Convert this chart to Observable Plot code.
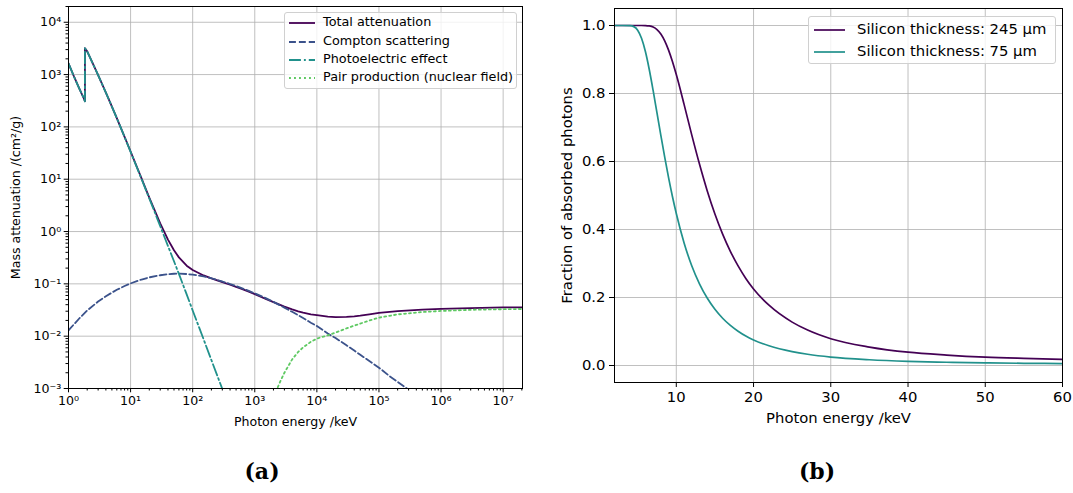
<!DOCTYPE html>
<html><head><meta charset="utf-8">
<script src="https://cdn.jsdelivr.net/npm/d3@7"></script>
<script src="https://cdn.jsdelivr.net/npm/@observablehq/plot@0.6"></script>
<style>
body{margin:0;background:#fff;font-family:"DejaVu Sans",sans-serif;}
#wrap{position:relative;width:1073px;height:493px;overflow:hidden;background:#fff;}
.panel{position:absolute;top:0;}
.legend{position:absolute;background:rgba(255,255,255,0.8);border:1px solid #d0d0d0;border-radius:3px;box-sizing:border-box;}
.legend .row{position:absolute;white-space:nowrap;line-height:1;color:#000;}
.legend svg{position:absolute;overflow:visible;}
.caption{position:absolute;font-family:"DejaVu Serif",serif;font-weight:bold;font-size:22px;transform:translateX(-50%);white-space:nowrap;}
</style></head>
<body><div id="wrap"></div>
<script>
// ---------- Panel (a): mass attenuation of silicon ----------
const totalEnergy = [1,1.25,1.5,1.75,1.839,1.839,2,2.5,3,4,5,6,8,10,15,20,30,40,50,60,80,100,150,200,300,400,500,600,800,1000,1500,2000,3000,4000,5000,6000,8000,1e4,1.5e4,2e4,3e4,4e4,5e4,7e4,1e5,2e5,5e5,1e6,3e6,1e7,2.1e7];
const totalMu = [1640,870,535,359,309,3192,2777,1564,978,453,245,147,64.7,33.9,10.34,4.46,1.436,0.701,0.4385,0.3207,0.2228,0.1835,0.1448,0.1275,0.1082,0.0961,0.0875,0.0808,0.0708,0.0636,0.0518,0.0448,0.0368,0.0325,0.0298,0.0281,0.0262,0.0252,0.0237,0.0232,0.0234,0.0239,0.0246,0.0261,0.0280,0.0302,0.0322,0.0332,0.0345,0.0354,0.0356];

const comptonEnergy = [1,1.5,2,3,4,5,6,8,10,15,20,30,40,50,60,80,100,150,200,300,400,500,600,800,1000,1500,2000,3000,4000,5000,6000,8000,1e4,1.5e4,2e4,3e4,4e4,5e4,6e4,8e4,1e5,1.5e5,2e5,3e5,4e5,1e6,1e7,2.1e7];
const comptonMu = [0.0129,0.022,0.031,0.046,0.058,0.068,0.077,0.091,0.102,0.121,0.133,0.146,0.153,0.156,0.157,0.154,0.150,0.139,0.128,0.111,0.0994,0.0905,0.0836,0.0734,0.0658,0.0533,0.0452,0.0352,0.0292,0.0252,0.0222,0.0181,0.0157,0.0112,0.0092,0.0067,0.0053,0.0044,0.0038,0.0030,0.0025,0.0017,0.00134,0.00095,0.00075,0.00033,0.00004,0.00002];

const photoEnergy = [1,1.25,1.5,1.75,1.839,1.839,2,2.5,3,4,5,6,8,10,15,20,30,40,50,60,80,100,150,200,300,400];
const photoMu = [1638,866,534,358,308.5,3191,2776,1563,977,452,244.3,146.3,64.1,33.4,10.1,4.3,1.27,0.53,0.27,0.155,0.063,0.031,0.0087,0.0035,0.00098,0.00045];

const pairEnergy = [1500,2000,2300,2600,3000,4000,5000,6000,8000,1e4,1.5e4,2e4,3e4,4e4,5e4,7e4,1e5,2e5,5e5,1e6,3e6,1e7,2.1e7];
const pairMu = [0.0001,0.0006,0.001,0.0014,0.0020,0.0036,0.0050,0.0061,0.0078,0.0090,0.0104,0.0117,0.0141,0.0159,0.0174,0.0199,0.0226,0.0261,0.0289,0.0304,0.0319,0.0328,0.0331];

const seriesANames = ["Total attenuation","Compton scattering","Photoelectric effect","Pair production (nuclear field)"];
const seriesAColors = ["#440154","#3b528b","#21918c","#5ec962"];
const seriesADash = [null,"6.9,3","11.9,3,1.9,3","1.9,3.1"];

const xTicksA = [1,10,100,1000,1e4,1e5,1e6,1e7];
const xTickLabelsA = ["10⁰","10¹","10²","10³","10⁴","10⁵","10⁶","10⁷"];
const yTicksA = [1e-3,1e-2,1e-1,1,10,100,1000,1e4];
const yTickLabelsA = ["10⁻³","10⁻²","10⁻¹","10⁰","10¹","10²","10³","10⁴"];

// ---------- Panel (b): absorbed fraction ----------
const energyB = [2,3,4,4.5,5,5.5,6,6.5,7,7.5,8,8.5,9,9.5,10,11,12,13,14,15,16,17,18,19,20,22,25,27,30,35,40,45,50,55,60];
const abs245 = [1,1,1,1,1,1,0.9998,0.9987,0.9955,0.9882,0.9751,0.9549,0.9276,0.8941,0.8556,0.7687,0.6783,0.5924,0.5143,0.4458,0.3866,0.3359,0.2929,0.2560,0.2250,0.1773,0.1276,0.1042,0.0787,0.0543,0.0392,0.0308,0.0247,0.0210,0.0181];
const abs75 = [1,1,0.9996,0.9967,0.9862,0.9623,0.9234,0.8706,0.8089,0.7430,0.6770,0.6126,0.5524,0.4970,0.4469,0.3612,0.2933,0.2402,0.1984,0.1653,0.1389,0.1178,0.1007,0.0865,0.0750,0.0580,0.0409,0.0331,0.0248,0.0169,0.0122,0.0095,0.0076,0.0065,0.0056];
const seriesBNames = ["Silicon thickness: 245 µm","Silicon thickness: 75 µm"];
const seriesBColors = ["#440154","#21918c"];
const xTicksB = [10,20,30,40,50,60];
const yTicksB = [0,0.2,0.4,0.6,0.8,1.0];
const yTickLabelsB = ["0.0","0.2","0.4","0.6","0.8","1.0"];

const captions = ["(a)","(b)"];

// ---------- build ----------
const wrap = document.getElementById("wrap");

function minorLog(lo, hi) {
  const out = [];
  for (let k = Math.floor(Math.log10(lo)); k <= Math.ceil(Math.log10(hi)); k++)
    for (let m = 2; m <= 9; m++) { const v = m * Math.pow(10, k); if (v >= lo && v <= hi) out.push(v); }
  return out;
}

const dataA = [];
[[totalEnergy,totalMu],[comptonEnergy,comptonMu],[photoEnergy,photoMu],[pairEnergy,pairMu]].forEach(([E,M],s) => {
  E.forEach((e,i) => dataA.push({s, e, mu: M[i]}));
});

const xDomA = [1, 2.05e7], yDomA = [1e-3, 2e4];
const xLabMapA = new Map(xTicksA.map((d,i)=>[d,xTickLabelsA[i]]));
const yLabMapA = new Map(yTicksA.map((d,i)=>[d,yTickLabelsA[i]]));
const gridStyle = {stroke:"#b0b0b0", strokeOpacity:1, strokeWidth:0.8};

const plotA = Plot.plot({
  width: 536, height: 440,
  marginLeft: 68, marginRight: 14, marginTop: 6, marginBottom: 52,
  style: {fontFamily: "DejaVu Sans", fontSize: "12.6px", color: "#000", background: "transparent"},
  x: {type: "log", domain: xDomA},
  y: {type: "log", domain: yDomA},
  marks: [
    Plot.gridX(xTicksA, gridStyle),
    Plot.gridY(yTicksA, gridStyle),
    ...[0,1,2,3].map(s => Plot.line(dataA.filter(d=>d.s===s), {x:"e", y:"mu", stroke: seriesAColors[s], strokeWidth: 1.8, strokeDasharray: seriesADash[s], clip: true, curve: "linear"})),
    Plot.frame({stroke: "#000", strokeWidth: 1}),
    Plot.axisX(xTicksA, {tickSize: 4.3, tickPadding: 3, tickFormat: d => xLabMapA.get(d), fontSize: 12.6, label: "Photon energy /keV", labelAnchor: "center", labelOffset: 37, labelArrow: "none"}),
    Plot.axisX(minorLog(...xDomA), {tickSize: 2.5, tickFormat: () => "", label: null}),
    Plot.axisY(yTicksA, {tickSize: 4.3, tickPadding: 3, tickFormat: d => yLabMapA.get(d), fontSize: 12.6, label: "Mass attenuation /(cm²/g)", labelAnchor: "center", labelOffset: 57, labelArrow: "none"}),
    Plot.axisY(minorLog(...yDomA), {tickSize: 2.5, tickFormat: () => "", label: null})
  ]
});
plotA.classList.add("panel"); plotA.style.left = "0px";
wrap.appendChild(plotA);

const dataB = [];
energyB.forEach((e,i) => { dataB.push({s:0, e, f: abs245[i]}); dataB.push({s:1, e, f: abs75[i]}); });
const yLabMapB = new Map(yTicksB.map((d,i)=>[d,yTickLabelsB[i]]));

const plotB = Plot.plot({
  width: 533, height: 440,
  marginLeft: 74, marginRight: 11, marginTop: 8, marginBottom: 58,
  style: {fontFamily: "DejaVu Sans", fontSize: "15px", color: "#000", background: "transparent"},
  x: {domain: [2, 60]},
  y: {domain: [-0.05, 1.05]},
  marks: [
    Plot.gridX(xTicksB, gridStyle),
    Plot.gridY(yTicksB, gridStyle),
    ...[0,1].map(s => Plot.line(dataB.filter(d=>d.s===s), {x:"e", y:"f", stroke: seriesBColors[s], strokeWidth: 1.7, curve: "monotone-x", clip: true})),
    Plot.frame({stroke: "#000", strokeWidth: 1}),
    Plot.axisX(xTicksB, {tickSize: 5, tickPadding: 4, fontSize: 14.8, label: "Photon energy /keV", labelAnchor: "center", labelOffset: 40, labelArrow: "none"}),
    Plot.axisY(yTicksB, {tickSize: 5, tickPadding: 4, tickFormat: d => yLabMapB.get(d), fontSize: 14.8, label: "Fraction of absorbed photons", labelAnchor: "center", labelOffset: 53, labelArrow: "none"})
  ]
});
plotB.classList.add("panel"); plotB.style.left = "540px";
wrap.appendChild(plotB);

// ---------- legends ----------
function legend(box, rows, names, colors, dashes, fontSize, sample, textX, lw) {
  const div = document.createElement("div");
  div.className = "legend";
  Object.assign(div.style, {left: box[0]+"px", top: box[1]+"px", width: box[2]+"px", height: box[3]+"px", fontSize: fontSize+"px"});
  names.forEach((n,i) => {
    const cy = rows[i];
    const svg = document.createElementNS("http://www.w3.org/2000/svg","svg");
    svg.setAttribute("width", sample[1]-sample[0]); svg.setAttribute("height", 4);
    svg.style.left = sample[0]+"px"; svg.style.top = (cy-2)+"px";
    const ln = document.createElementNS("http://www.w3.org/2000/svg","line");
    ln.setAttribute("x1",0); ln.setAttribute("x2",sample[1]-sample[0]); ln.setAttribute("y1",2); ln.setAttribute("y2",2);
    ln.setAttribute("stroke",colors[i]); ln.setAttribute("stroke-width",lw);
    if (dashes && dashes[i]) ln.setAttribute("stroke-dasharray",dashes[i]);
    svg.appendChild(ln); div.appendChild(svg);
    const t = document.createElement("div");
    t.className = "row"; t.textContent = n;
    t.style.left = textX+"px"; t.style.top = (cy - fontSize*0.55)+"px";
    div.appendChild(t);
  });
  wrap.appendChild(div);
}
legend([284,12,233,77],[10,28.7,47,65.3],seriesANames,seriesAColors,seriesADash,12.8,[4,30],38,1.8);
legend([808,16,248,48],[13,34.7],seriesBNames,seriesBColors,null,14.8,[5,36],48,1.7);

// ---------- captions ----------
[[262,458],[817,458]].forEach(([x,y],i) => {
  const c = document.createElement("div");
  c.className = "caption"; c.textContent = captions[i];
  c.style.left = x+"px"; c.style.top = y+"px";
  wrap.appendChild(c);
});
</script>
</body></html>
